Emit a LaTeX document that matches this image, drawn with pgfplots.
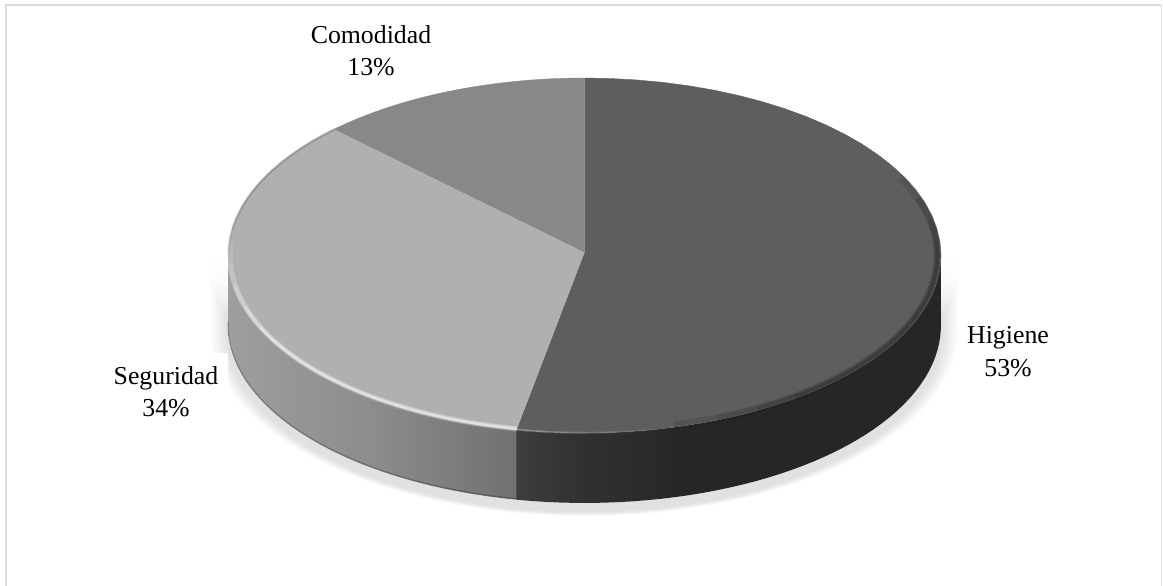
\documentclass[border=0pt]{standalone}
\usepackage{fontspec}
\setmainfont{Liberation Serif}
\usepackage{pgfplots}
\usepackage{pgfplotstable}
\pgfplotsset{compat=1.18}

% Shares of each slice, in percent, clockwise from twelve o'clock
\pgfplotstableread{
slice share
Higiene 53.0
Seguridad 34.4
Comodidad 12.6
}\pieshares
\pgfplotstablegetelem{0}{share}\of\pieshares \let\shareH\pgfplotsretval
\pgfplotstablegetelem{1}{share}\of\pieshares \let\shareS\pgfplotsretval
\pgfmathsetmacro\endH{\shareH}
\pgfmathsetmacro\endS{\shareH+\shareS}

% Geometry of the tilted disc, in picture units
\def\apexX{584.5}\def\apexY{252}
\def\radX{356.4}\def\radY{177.4}
\def\persp{0.0197}
\def\rimDepth{70}

\gdef\ptlist{}
\newcommand\resetpts{\gdef\ptlist{}}
\newcommand\addpoint[2]{\xdef\ptlist{\ptlist (#1,#2)}}
% \arcpts{from %}{to %}{downward shift}{radial scale}: appends an arc of the rim
\newcommand\arcpts[4]{%
  \foreach \step in {0,...,44}{%
    \pgfmathsetmacro\ang{(#1+(#2-(#1))*\step/44)*3.6}%
    \pgfmathsetmacro\uu{sin(\ang)}%
    \pgfmathsetmacro\vv{cos(\ang)}%
    \pgfmathsetmacro\ww{1+\persp*\vv}%
    \pgfmathsetmacro\px{\apexX+#4*\radX*\uu/\ww}%
    \pgfmathsetmacro\py{\apexY-#4*\radY*\vv/\ww+#3}%
    \xdef\ptlist{\ptlist (\px,\py)}%
  }}
\newcommand\polyplot[1]{\edef\temp{\noexpand\addplot[#1] coordinates {\ptlist};}\temp}
% \softarc{from %}{to %}{radial scale}{width}{colour}{opacity}: one bevel layer
\newcommand\softarc[6]{\resetpts\arcpts{#1}{#2}{0}{#3}\polyplot{#5, line width=#4pt, opacity=#6}}

\definecolor{wallSa}{gray}{0.62}
\definecolor{wallSb}{gray}{0.55}
\definecolor{wallSc}{gray}{0.44}
\definecolor{wallHa}{gray}{0.24}
\definecolor{wallHb}{gray}{0.19}
\definecolor{wallHc}{gray}{0.15}
\definecolor{faceH}{gray}{0.37}
\definecolor{faceS}{gray}{0.69}
\definecolor{faceC}{gray}{0.535}
\definecolor{framec}{gray}{0.86}
% Horizontal tones of the visible side wall
\pgfdeclarehorizontalshading{wallS}{100bp}{
  color(0bp)=(wallSa); color(25bp)=(wallSa); color(50bp)=(wallSb); color(75bp)=(wallSc); color(100bp)=(wallSc)}
\pgfdeclarehorizontalshading{wallH}{100bp}{
  color(0bp)=(wallHa); color(25bp)=(wallHa); color(33bp)=(wallHb); color(45bp)=(wallHc); color(100bp)=(wallHc)}

\begin{document}
\begin{tikzpicture}
\begin{axis}[
  scale only axis, width=1163pt, height=586pt,
  xmin=0, xmax=1163, ymin=0, ymax=586, y dir=reverse,
  enlargelimits=false,
  axis line style={draw=none}, xtick=\empty, ytick=\empty,
]
% chart frame
\addplot[framec, line width=2.5pt] coordinates {(6,586) (6,5) (1161,5)};
\addplot[framec!70!white, line width=1pt] coordinates {(1161,5) (1161,586)};

% soft drop shadow, built up in layers
\foreach \sc/\sk in {1.050/74,1.045/75,1.040/75,1.035/76,1.030/76,1.025/77,1.020/77,1.015/78,1.010/78,1.005/78}{%
  \resetpts
  \arcpts{25}{75}{\sk}{\sc}%
  \arcpts{75}{25}{5}{\sc}%
  \polyplot{fill=black, draw=none, opacity=0.013}
}

% white backing of the left-hand label
\addplot[fill=white, draw=none] coordinates {(104,353) (228,353) (228,430) (104,430)};

% side wall
\resetpts
\arcpts{25}{\endH}{0}{1}\arcpts{\endH}{25}{\rimDepth}{1}
\polyplot{shade, shading=wallH, draw=none}
\resetpts
\arcpts{\endH}{75}{0}{1}\arcpts{75}{\endH}{\rimDepth}{1}
\polyplot{shade, shading=wallS, draw=none}
% darker lower edge of the wall
\resetpts
\arcpts{\endH}{75}{69}{1}
\polyplot{black, line width=1.2pt, opacity=0.22}

% top faces
\resetpts
\addpoint{\apexX}{\apexY}\arcpts{0}{\endH}{0}{1}
\polyplot{fill=faceH, draw=faceH, line width=0.4pt}
\resetpts
\addpoint{\apexX}{\apexY}\arcpts{\endH}{\endS}{0}{1}
\polyplot{fill=faceS, draw=faceS, line width=0.4pt}
\resetpts
\addpoint{\apexX}{\apexY}\arcpts{\endS}{100}{0}{1}
\polyplot{fill=faceC, draw=faceC, line width=0.4pt}

% bevel on the dark slice: shaded to the right, lit towards the front
\foreach \a/\b/\w in {18/46/8, 20/44/6, 22/42/4.5, 24/40/3}{%
  \softarc{\a}{\b}{0.990}{\w}{black}{0.10}
}
\foreach \a in {47,48.5,50,51.5}{%
  \softarc{\a}{\endH}{0.999}{2}{white}{0.07}
}

% bevel on the light slice: highlight along the front edge
\foreach \b/\w/\o in {76/6/0.10, 74/5/0.14, 72/4/0.18, 70/3/0.22, 68/2/0.25}{%
  \softarc{\endH}{\b}{0.995}{\w}{white}{\o}
}
\foreach \a/\w in {75/3, 77/2.4, 79/2}{%
  \softarc{\a}{\endS}{0.999}{\w}{black}{0.05}
}

% slice labels
\tikzset{lab/.style={anchor=base, inner sep=0pt, font=\fontsize{25.8}{30}\selectfont}}
\node[lab] at (axis cs:371,44) {Comodidad};
\node[lab] at (axis cs:371,76) {13\%};
\node[lab] at (axis cs:166,384) {Seguridad};
\node[lab] at (axis cs:166,416) {34\%};
\node[lab] at (axis cs:1008,343) {Higiene};
\node[lab] at (axis cs:1008,376) {53\%};
\end{axis}
\end{tikzpicture}
\end{document}
